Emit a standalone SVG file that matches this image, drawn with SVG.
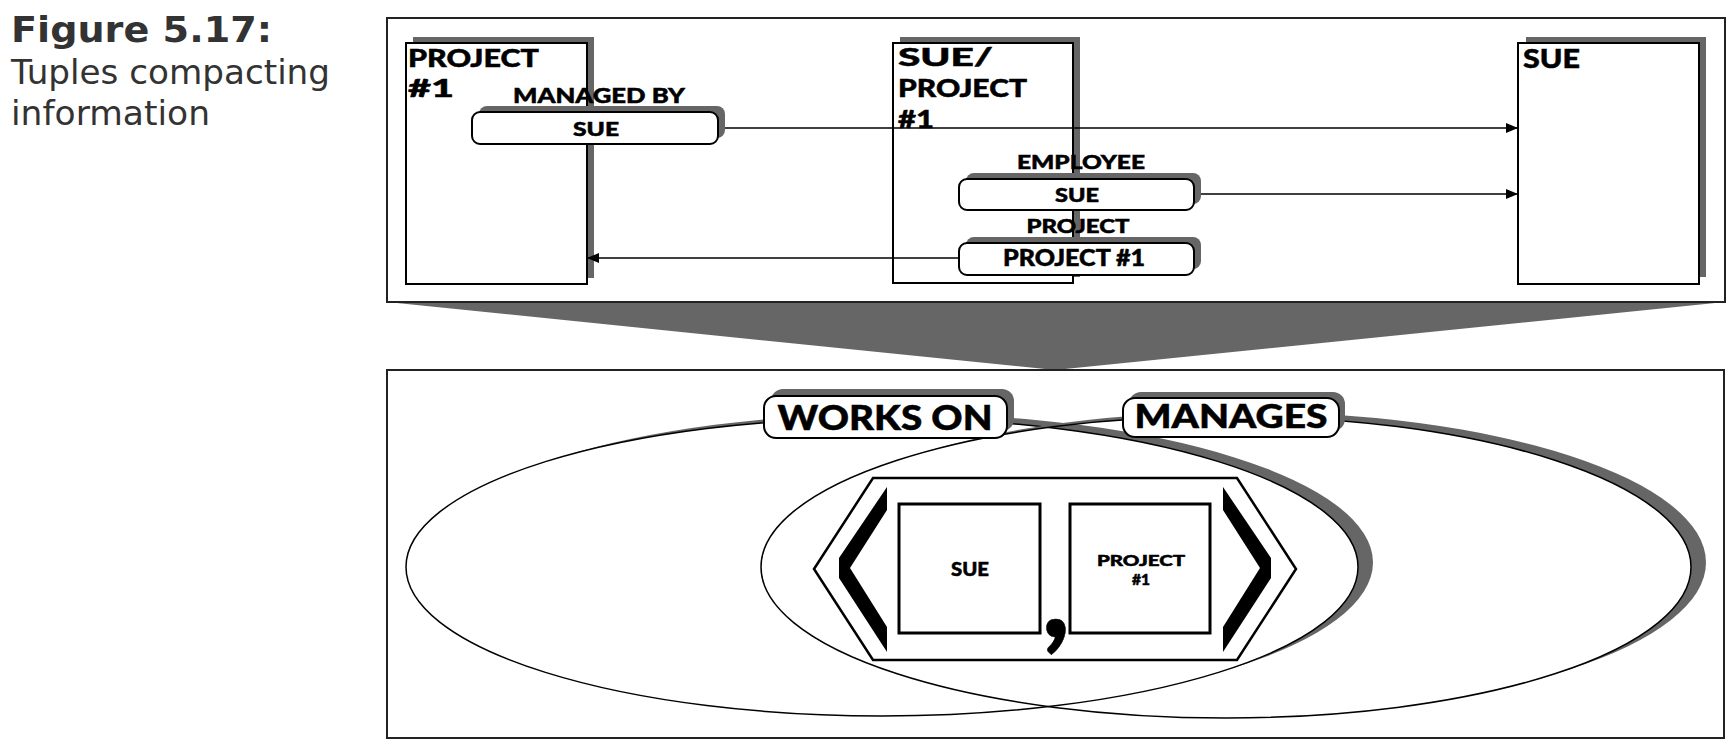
<svg xmlns="http://www.w3.org/2000/svg" width="1735" height="753" viewBox="0 0 1735 753">
<style>
.title{font-family:"DejaVu Sans","Verdana",sans-serif;fill:#333}
.lbl{font-family:Lato,"DejaVu Sans",sans-serif;font-weight:900;fill:#000;stroke:#000;stroke-width:0.5}
.panel{fill:#fff;stroke:#222;stroke-width:2}
.box{fill:#fff;stroke:#000;stroke-width:2}
.shd{fill:#666}
.pill{fill:#fff;stroke:#000;stroke-width:2}
.conn{stroke:#000;stroke-width:1.5;fill:none}
.ell{fill:none;stroke:#000;stroke-width:1.5}
.sq{fill:#fff;stroke:#000;stroke-width:3}
</style>
<defs>
<marker id="arr" markerUnits="userSpaceOnUse" markerWidth="12" markerHeight="10" refX="12" refY="5" orient="auto">
<path d="M0,0 L12,5 L0,10 z" fill="#000"/>
</marker>
<mask id="mL" maskUnits="userSpaceOnUse" x="0" y="0" width="1735" height="753">
<rect x="0" y="0" width="1735" height="753" fill="#fff"/>
<ellipse cx="882" cy="567" rx="476" ry="149" fill="#000"/>
</mask>
<mask id="mR" maskUnits="userSpaceOnUse" x="0" y="0" width="1735" height="753">
<rect x="0" y="0" width="1735" height="753" fill="#fff"/>
<ellipse cx="1226" cy="567" rx="465" ry="151" fill="#000"/>
</mask>
</defs>

<g id="caption">
<text class="title" x="11" y="42" font-size="35" font-weight="bold" textLength="261" lengthAdjust="spacingAndGlyphs">Figure 5.17:</text>
<text class="title" x="11" y="84" font-size="34" textLength="319" lengthAdjust="spacingAndGlyphs">Tuples compacting</text>
<text class="title" x="11" y="125" font-size="34" textLength="199" lengthAdjust="spacingAndGlyphs">information</text>
</g>

<g id="funnel">
<polygon points="387,302 1725,302 1055,370" fill="#666"/>
</g>

<g id="top-panel">
<rect class="panel" x="387" y="18" width="1338" height="284"/>
</g>

<g id="node-project1">
<rect class="shd" x="413" y="37" width="181" height="241"/>
<rect class="box" x="406" y="43" width="181" height="241"/>
<text class="lbl" font-size="25"><tspan x="408" y="67" textLength="131" lengthAdjust="spacingAndGlyphs">PROJECT</tspan><tspan x="408" y="97" textLength="46" lengthAdjust="spacingAndGlyphs">#1</tspan></text>
</g>

<g id="node-sue-project1">
<rect class="shd" x="900" y="37" width="180" height="240"/>
<rect class="box" x="893" y="43" width="180" height="240"/>
<text class="lbl" font-size="25.5"><tspan x="898" y="66" textLength="95" lengthAdjust="spacingAndGlyphs">SUE/</tspan><tspan x="898" y="97" textLength="129" lengthAdjust="spacingAndGlyphs">PROJECT</tspan><tspan x="898" y="128" textLength="36" lengthAdjust="spacingAndGlyphs">#1</tspan></text>
</g>

<g id="node-sue">
<rect class="shd" x="1526" y="37" width="180" height="240"/>
<rect class="box" x="1518" y="43" width="181" height="241"/>
<text class="lbl" x="1523" y="68" font-size="26" textLength="57" lengthAdjust="spacingAndGlyphs">SUE</text>
</g>

<g id="connectors">
<line class="conn" x1="718" y1="128" x2="1518" y2="128" marker-end="url(#arr)"/>
<line class="conn" x1="1194" y1="194" x2="1518" y2="194" marker-end="url(#arr)"/>
<line class="conn" x1="959" y1="258" x2="587" y2="258" marker-end="url(#arr)"/>
</g>

<g id="attr-managed-by">
<text class="lbl" x="599" y="103" font-size="21" text-anchor="middle" textLength="172" lengthAdjust="spacingAndGlyphs">MANAGED BY</text>
<rect class="shd" x="479" y="106" width="246" height="32" rx="8"/>
<rect class="pill" x="472" y="112" width="246" height="32" rx="8"/>
<text class="lbl" x="596" y="136" font-size="19" text-anchor="middle" textLength="46" lengthAdjust="spacingAndGlyphs">SUE</text>
</g>

<g id="attr-employee">
<text class="lbl" x="1081" y="169" font-size="19" text-anchor="middle" textLength="128" lengthAdjust="spacingAndGlyphs">EMPLOYEE</text>
<rect class="shd" x="966" y="173" width="235" height="31" rx="8"/>
<rect class="pill" x="959" y="179" width="235" height="31" rx="8"/>
<text class="lbl" x="1077" y="202" font-size="19" text-anchor="middle" textLength="44" lengthAdjust="spacingAndGlyphs">SUE</text>
</g>

<g id="attr-project">
<text class="lbl" x="1078" y="233" font-size="19" text-anchor="middle" textLength="103" lengthAdjust="spacingAndGlyphs">PROJECT</text>
<rect class="shd" x="966" y="237" width="235" height="32" rx="8"/>
<rect class="pill" x="959" y="243" width="235" height="32" rx="8"/>
<text class="lbl" x="1074" y="266" font-size="22" text-anchor="middle" textLength="142" lengthAdjust="spacingAndGlyphs">PROJECT #1</text>
</g>

<g id="bottom-panel">
<rect class="panel" x="387" y="370" width="1337" height="368"/>
</g>

<g id="set-works-on">
<ellipse cx="897" cy="562.5" rx="476" ry="149" class="shd" mask="url(#mL)"/>
<ellipse class="ell" cx="882" cy="567" rx="476" ry="149"/>
</g>

<g id="set-manages">
<ellipse cx="1241" cy="562.5" rx="465" ry="151" class="shd" mask="url(#mR)"/>
<ellipse class="ell" cx="1226" cy="567" rx="465" ry="151"/>
</g>

<g id="tuple">
<polygon points="814,569 873,478 1237,478 1296,569 1237,660 873,660" fill="#fff" stroke="#000" stroke-width="2.5"/>
<polygon points="887,487 839,558 839,578 887,652 887,627 850,568 887,510" fill="#000"/>
<polygon points="1223,487 1271,558 1271,578 1223,652 1223,627 1260,568 1223,510" fill="#000"/>
<rect class="sq" x="899" y="504" width="141" height="129"/>
<text class="lbl" x="970" y="576" font-size="19" text-anchor="middle" textLength="38" lengthAdjust="spacingAndGlyphs">SUE</text>
<rect class="sq" x="1070" y="504" width="140" height="129"/>
<text class="lbl" font-size="15.5" text-anchor="middle"><tspan x="1141" y="566" textLength="88" lengthAdjust="spacingAndGlyphs">PROJECT</tspan><tspan x="1141" y="585">#1</tspan></text>
<text class="lbl" x="1056" y="637" font-size="120" text-anchor="middle">,</text>
</g>

<g id="label-works-on">
<rect class="shd" x="771" y="389" width="243" height="42" rx="12"/>
<rect class="pill" x="764" y="396" width="243" height="42" rx="12"/>
<text class="lbl" x="885" y="430" font-size="35" text-anchor="middle" textLength="215" lengthAdjust="spacingAndGlyphs" stroke-width="1">WORKS ON</text>
</g>

<g id="label-manages">
<rect class="shd" x="1129" y="392" width="216" height="39" rx="12"/>
<rect class="pill" x="1123" y="398" width="216" height="39" rx="12"/>
<text class="lbl" x="1231" y="428" font-size="33" text-anchor="middle" textLength="193" lengthAdjust="spacingAndGlyphs" stroke-width="1">MANAGES</text>
</g>
</svg>
